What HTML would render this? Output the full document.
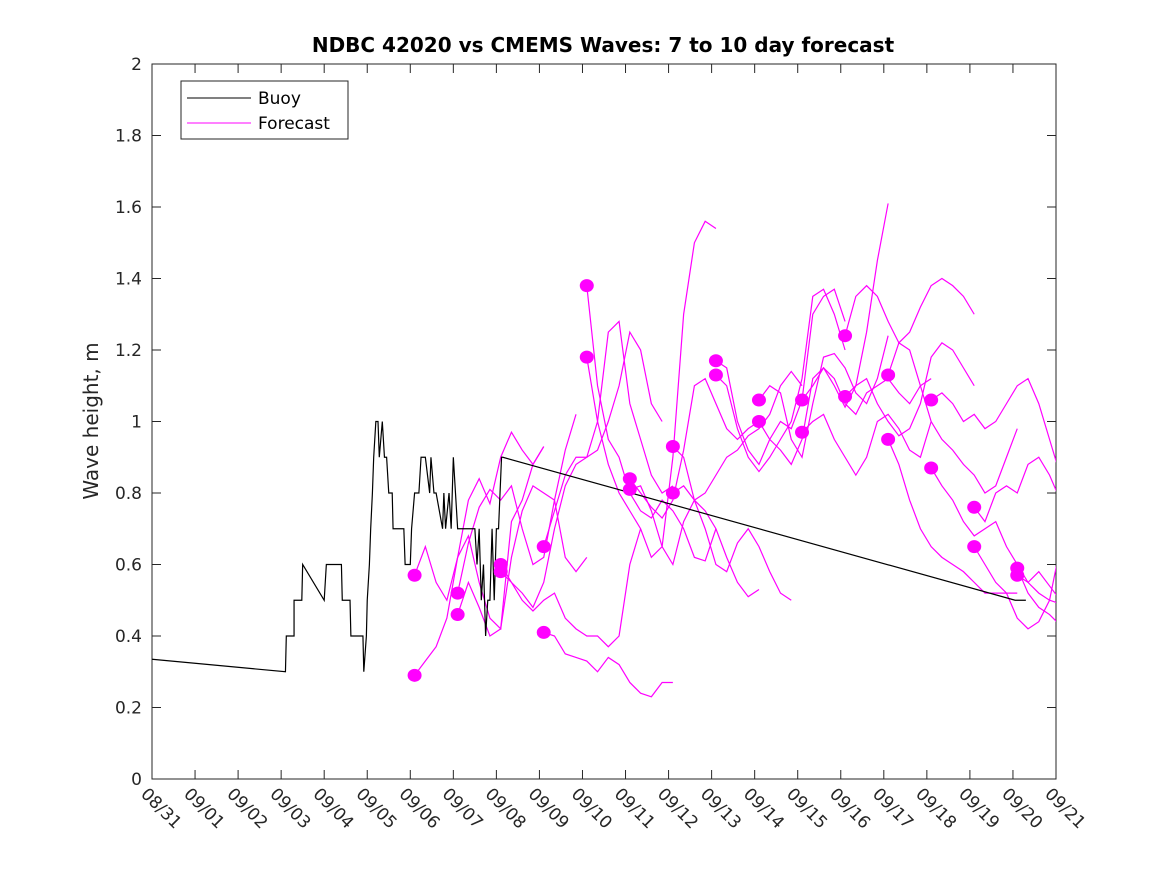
<!DOCTYPE html>
<html><head><meta charset="utf-8"><style>
body{margin:0;background:#fff;}
svg text{font-family:"DejaVu Sans","Liberation Sans",sans-serif;fill:#262626;}
</style></head><body>
<svg id="chart" width="1167" height="875" xmlns="http://www.w3.org/2000/svg">
<rect width="1167" height="875" fill="#fff"/>
<defs><clipPath id="clip"><rect x="152" y="64" width="904" height="715"/></clipPath></defs>
<text x="603" y="52" text-anchor="middle" font-size="20" font-weight="bold" style="fill:#000">NDBC 42020 vs CMEMS Waves: 7 to 10 day forecast</text>
<text transform="translate(98,421) rotate(-90)" text-anchor="middle" font-size="20">Wave height, m</text>
<g id="axes"></g>
<g id="series" clip-path="url(#clip)"></g>
<g id="legend">
<rect x="181" y="81" width="167" height="58" fill="#fff" stroke="#262626" stroke-width="1"/>
<line x1="187" y1="98" x2="251" y2="98" stroke="#000" stroke-width="1"/>
<text x="258" y="104" font-size="17" style="fill:#000">Buoy</text>
<line x1="187" y1="123" x2="251" y2="123" stroke="#f0f" stroke-width="1"/>
<text x="258" y="129" font-size="17" style="fill:#000">Forecast</text>
</g>
</svg>
<script>
const xTickLabels=["08/31","09/01","09/02","09/03","09/04","09/05","09/06","09/07","09/08","09/09","09/10","09/11","09/12","09/13","09/14","09/15","09/16","09/17","09/18","09/19","09/20","09/21"];
const yTicks=[0,0.2,0.4,0.6,0.8,1,1.2,1.4,1.6,1.8,2];
const yTickLabels=["0","0.2","0.4","0.6","0.8","1","1.2","1.4","1.6","1.8","2"];
// buoy: day offsets from 08/31, heights
const buoyDays=[0,3.1,3.12,3.3,3.3,3.48,3.5,4.0,4.05,4.4,4.42,4.6,4.62,4.9,4.92,4.98,5.0,5.05,5.08,5.12,5.15,5.2,5.25,5.28,5.35,5.4,5.45,5.5,5.58,5.6,5.65,5.85,5.88,6.0,6.03,6.1,6.2,6.25,6.35,6.45,6.48,6.55,6.6,6.75,6.78,6.82,6.9,6.95,7.0,7.05,7.1,7.2,7.5,7.55,7.6,7.65,7.7,7.75,7.8,7.85,7.9,7.95,8.0,8.05,8.12,8.15,20.05,20.3];
const buoyVals=[0.335,0.30,0.40,0.40,0.50,0.50,0.60,0.50,0.60,0.60,0.50,0.50,0.40,0.40,0.30,0.40,0.50,0.60,0.70,0.80,0.90,1.0,1.0,0.90,1.0,0.90,0.90,0.80,0.80,0.70,0.70,0.70,0.60,0.60,0.70,0.80,0.80,0.90,0.90,0.80,0.90,0.80,0.80,0.70,0.80,0.70,0.80,0.70,0.90,0.80,0.70,0.70,0.70,0.60,0.70,0.50,0.60,0.40,0.50,0.50,0.70,0.50,0.70,0.70,0.90,0.90,0.50,0.50];
// forecast runs: start day, values every 6 h
const fcStart=[6.1,6.1,7.1,7.1,8.1,8.1,9.1,9.1,10.1,10.1,11.1,11.1,12.1,12.1,13.1,13.1,14.1,14.1,15.1,15.1,16.1,16.1,17.1,17.1,18.1,18.1,19.1,19.1,20.1,20.1];
const fcVals=[
[0.57,0.65,0.55,0.50,0.62,0.78,0.84,0.77,0.90,0.97,0.92,0.88,0.93],
[0.29,0.33,0.37,0.45,0.62,0.68,0.55,0.45,0.42,0.72,0.78,0.88,0.93],
[0.52,0.66,0.76,0.81,0.78,0.82,0.70,0.60,0.62,0.78,0.92,1.02],
[0.46,0.55,0.48,0.40,0.42,0.62,0.75,0.82,0.80,0.78,0.62,0.58,0.62],
[0.60,0.55,0.50,0.47,0.50,0.52,0.45,0.42,0.40,0.40,0.37,0.40,0.60,0.70],
[0.58,0.55,0.52,0.48,0.55,0.70,0.82,0.88,0.90,0.92,1.00,1.10,1.25,1.20,1.05,1.00],
[0.65,0.75,0.85,0.90,0.90,1.00,1.25,1.28,1.05,0.95,0.85,0.80,0.82],
[0.41,0.40,0.35,0.34,0.33,0.30,0.34,0.32,0.27,0.24,0.23,0.27,0.27],
[1.38,1.10,0.95,0.90,0.80,0.75,0.73,0.78,0.75,0.70,0.62,0.61,0.70],
[1.18,1.00,0.88,0.80,0.75,0.70,0.62,0.65,0.90,1.30,1.50,1.56,1.54],
[0.84,0.80,0.76,0.73,0.78,0.92,1.10,1.12,1.05,0.98,0.95,0.98,1.00],
[0.81,0.82,0.75,0.65,0.60,0.72,0.78,0.75,0.70,0.62,0.55,0.51,0.53],
[0.93,0.90,0.78,0.70,0.60,0.58,0.66,0.70,0.65,0.58,0.52,0.50],
[0.80,0.82,0.78,0.80,0.85,0.90,0.92,0.96,0.98,1.02,1.10,1.14,1.10],
[1.17,1.15,1.00,0.92,0.88,0.95,1.00,0.98,1.06,1.30,1.35,1.37,1.28],
[1.13,1.10,0.98,0.90,0.86,0.90,0.95,1.00,1.12,1.35,1.37,1.30,1.20],
[1.06,1.10,1.08,0.95,0.90,1.05,1.18,1.19,1.15,1.08,1.05,1.12,1.24],
[1.00,0.95,0.92,0.88,0.95,1.12,1.15,1.10,1.04,1.10,1.25,1.45,1.61],
[1.06,1.10,1.15,1.12,1.05,1.02,1.08,1.10,1.12,1.08,1.05,1.10,1.12],
[0.97,1.00,1.02,0.95,0.90,0.85,0.90,1.00,1.02,0.98,0.92,0.90,1.00],
[1.24,1.35,1.38,1.35,1.28,1.22,1.25,1.32,1.38,1.40,1.38,1.35,1.30],
[1.07,1.10,1.12,1.05,1.00,0.96,0.98,1.05,1.18,1.22,1.20,1.15,1.10],
[1.13,1.22,1.20,1.10,1.00,0.95,0.92,0.88,0.85,0.80,0.82,0.90,0.98],
[0.95,0.88,0.78,0.70,0.65,0.62,0.60,0.58,0.55,0.52,0.52,0.52,0.52],
[1.06,1.08,1.05,1.00,1.02,0.98,1.00,1.05,1.10,1.12,1.05,0.95,0.85],
[0.87,0.82,0.78,0.72,0.68,0.70,0.72,0.65,0.60,0.55,0.52,0.50,0.49],
[0.76,0.72,0.80,0.82,0.80,0.88,0.90,0.85,0.78,0.70,0.65,0.62,0.60],
[0.65,0.60,0.55,0.52,0.45,0.42,0.44,0.50,0.65,0.70,0.62,0.55],
[0.59,0.52,0.48,0.46,0.43,0.40,0.35],
[0.57,0.55,0.58,0.54,0.50,0.48,0.45]
];
const X0=152,X1=1056,Y0=779,Y1=64,DAYS=21,YMAX=2;
const xs=d=>X0+d*(X1-X0)/DAYS;
const ys=v=>Y0-v*(Y0-Y1)/YMAX;
const NS="http://www.w3.org/2000/svg";
function mk(tag,attrs,parent){const e=document.createElementNS(NS,tag);for(const k in attrs)e.setAttribute(k,attrs[k]);parent.appendChild(e);return e;}
const axes=document.getElementById('axes');
const box=mk('rect',{x:X0,y:Y1,width:X1-X0,height:Y0-Y1,fill:'none',stroke:'#262626','stroke-width':1},axes);


xTickLabels.forEach((lab,i)=>{
  const x=xs(i);
  mk('line',{x1:x,y1:Y0,x2:x,y2:Y0-9,stroke:'#262626'},axes);
  mk('line',{x1:x,y1:Y1,x2:x,y2:Y1+9,stroke:'#262626'},axes);
  const t=mk('text',{transform:`translate(${x-12},${Y0+16}) rotate(45)`,'font-size':17},axes);
  t.textContent=lab;
  
  
});
yTicks.forEach((v,i)=>{
  const y=ys(v);
  mk('line',{x1:X0,y1:y,x2:X0+9,y2:y,stroke:'#262626'},axes);
  mk('line',{x1:X1,y1:y,x2:X1-9,y2:y,stroke:'#262626'},axes);
  const t=mk('text',{x:X0-10,y:y+6,'text-anchor':'end','font-size':17},axes);
  t.textContent=yTickLabels[i];
  
  
});
const ser=document.getElementById('series');
fcVals.forEach((vals,i)=>{
  const pts=vals.map((v,j)=>xs(fcStart[i]+j*0.25)+','+ys(v)).join(' ');
  const p=mk('polyline',{points:pts,fill:'none',stroke:'#f0f','stroke-width':1.2},ser);
  
  
});
const bp=mk('polyline',{points:buoyDays.map((d,i)=>xs(d)+','+ys(buoyVals[i])).join(' '),fill:'none',stroke:'#000','stroke-width':1.2},ser);


fcVals.forEach((vals,i)=>{
  const c=mk('ellipse',{cx:xs(fcStart[i]),cy:ys(vals[0]),rx:7,ry:6.5,fill:'#f0f'},ser);
  
  
});
</script>
</body></html>
